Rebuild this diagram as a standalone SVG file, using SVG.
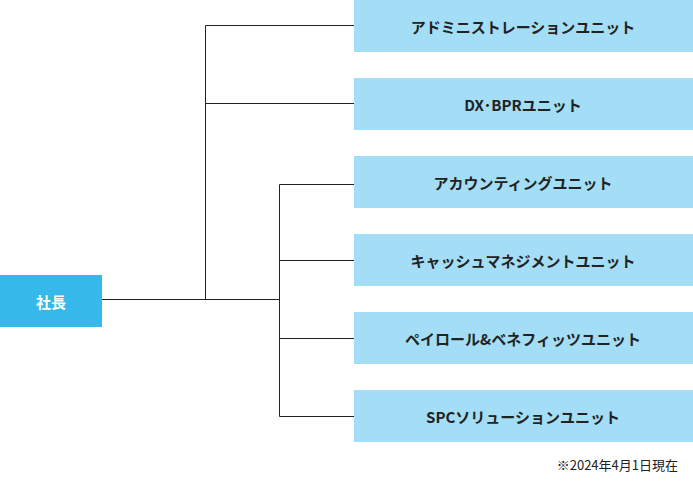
<svg xmlns="http://www.w3.org/2000/svg" width="693" height="485" viewBox="0 0 693 485">
<style>
.u{fill:#a3def6}
.t{font-family:"Noto Sans CJK JP","Noto Sans",sans-serif;font-weight:bold;font-size:15px;fill:#222;text-anchor:middle;dominant-baseline:central}
.c{stroke:#222;stroke-width:1;fill:none}
</style>
<rect width="693" height="485" fill="#fff"/>
<g id="connectors">
<path class="c" d="M102 299.5H279.5M205.5 299.5V25.5H354M205.5 103.5H354M279.5 184.5V416.5M279.5 184.5H354M279.5 260.5H354M279.5 338.5H354M279.5 416.5H354"/>
</g>
<g id="president"><rect x="0" y="275" width="102" height="52" fill="#36b9ea"/><text class="t" x="51" y="301" style="fill:#fff">社長</text></g>
<g id="u1"><rect class="u" x="354" y="0" width="339" height="52"/><text class="t" x="523" y="26">アドミニストレーションユニット</text></g>
<g id="u2"><rect class="u" x="354" y="78" width="339" height="52"/><text class="t" x="523" y="104">DX･BPRユニット</text></g>
<g id="u3"><rect class="u" x="354" y="156" width="339" height="52"/><text class="t" x="523" y="182">アカウンティングユニット</text></g>
<g id="u4"><rect class="u" x="354" y="234" width="339" height="52"/><text class="t" x="523" y="260">キャッシュマネジメントユニット</text></g>
<g id="u5"><rect class="u" x="354" y="312" width="339" height="52"/><text class="t" x="523" y="338">ペイロール&amp;ベネフィッツユニット</text></g>
<g id="u6"><rect class="u" x="354" y="390" width="339" height="52"/><text class="t" x="523" y="416">SPCソリューションユニット</text></g>
<text x="678" y="464" style="font-family:'Noto Sans CJK JP','Noto Sans',sans-serif;font-size:13px;fill:#222;text-anchor:end;dominant-baseline:central">※2024年4月1日現在</text>
</svg>
